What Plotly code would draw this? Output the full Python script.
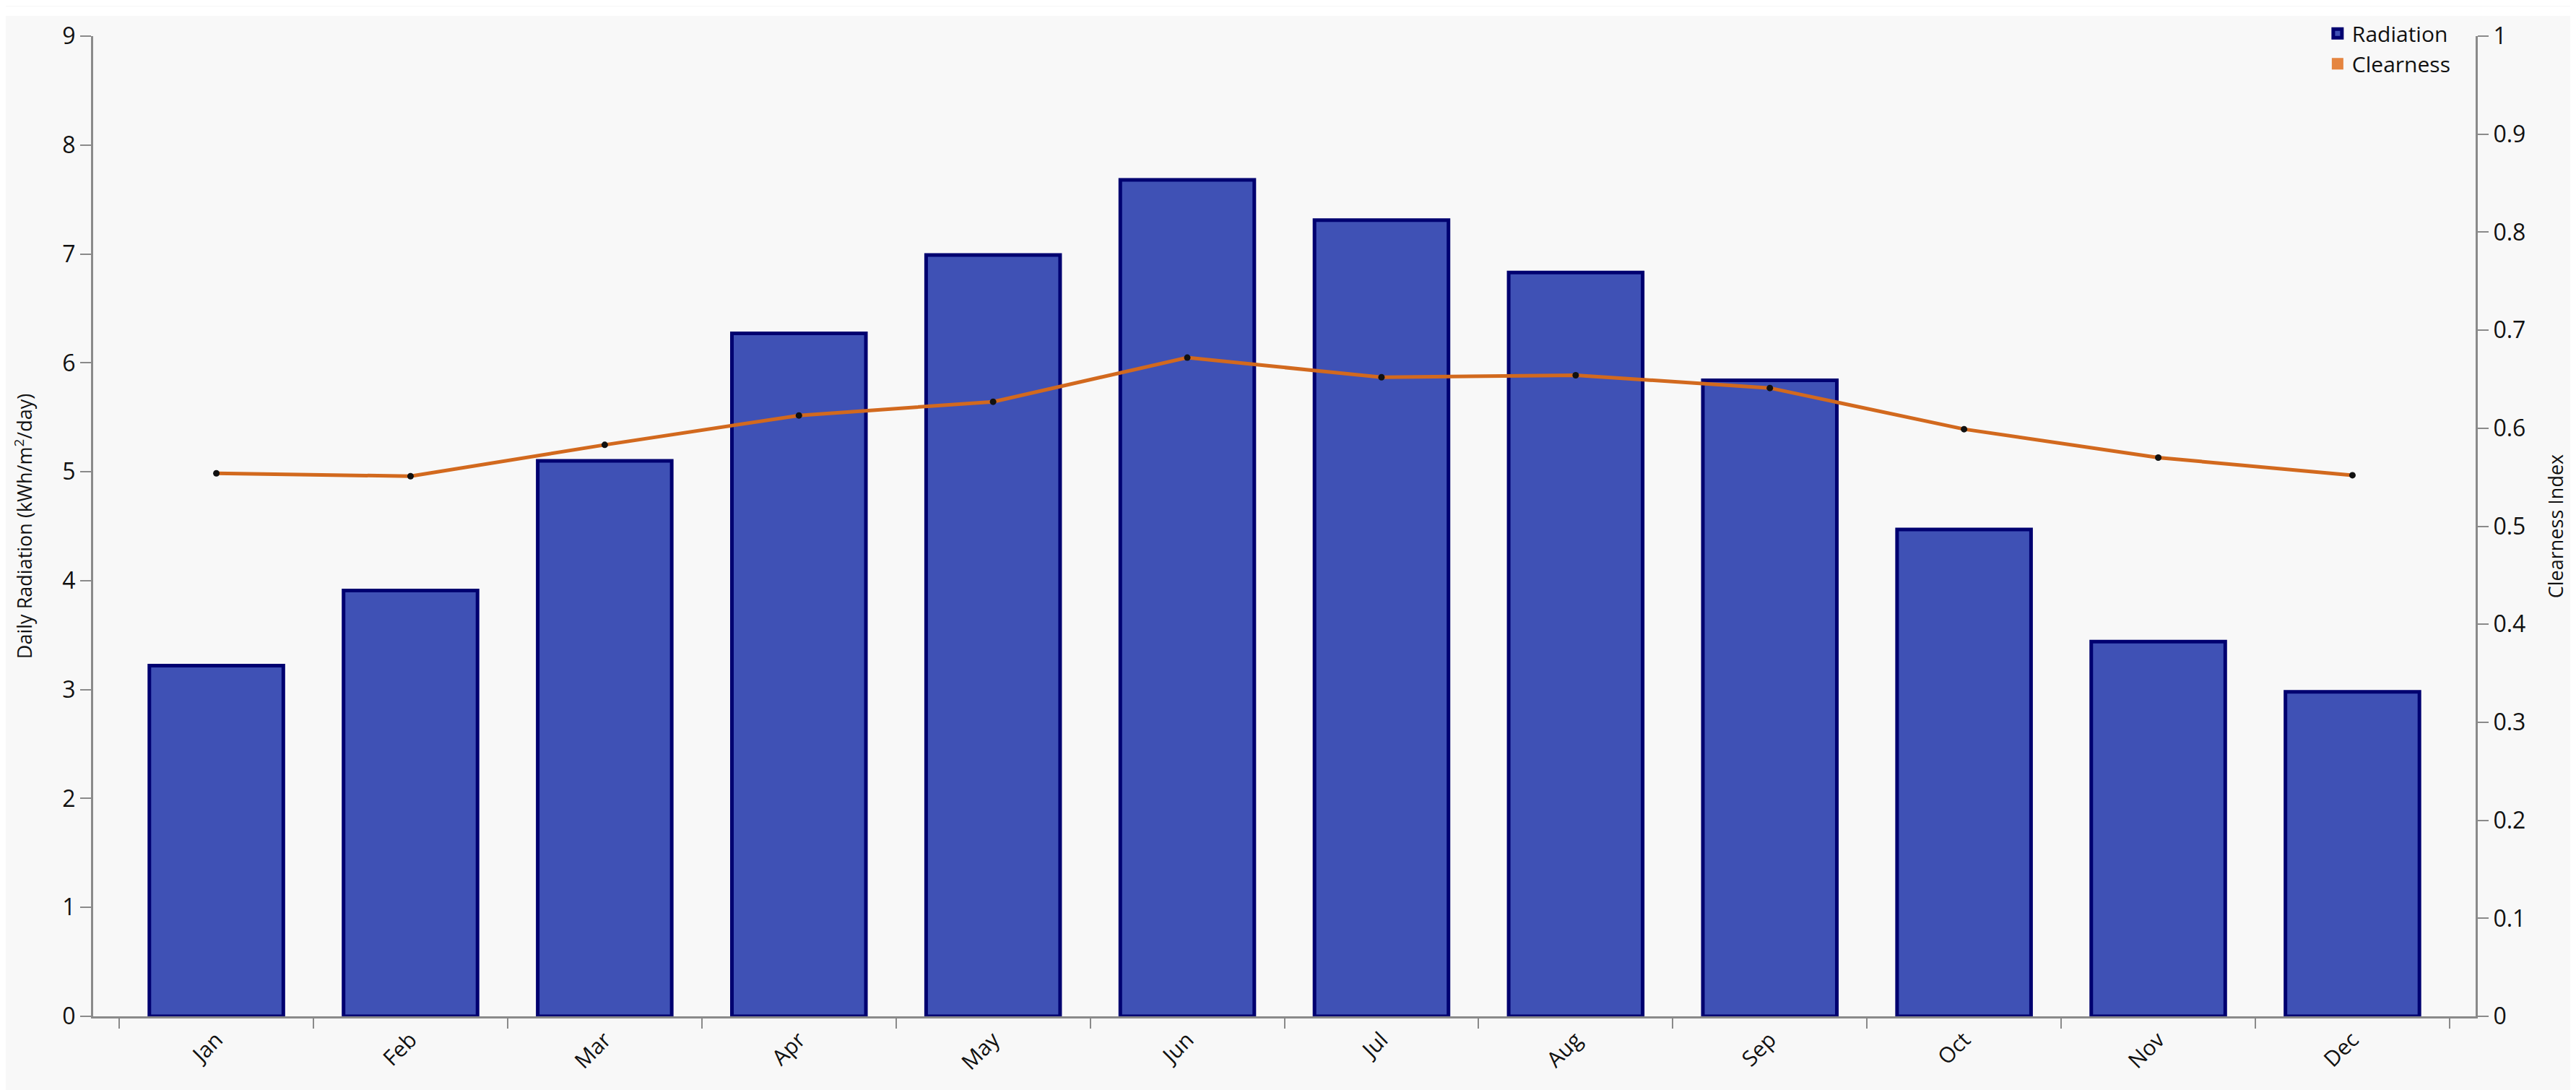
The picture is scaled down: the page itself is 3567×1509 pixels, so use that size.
import plotly.graph_objects as go

# monthly values
months = ['Jan', 'Feb', 'Mar', 'Apr', 'May', 'Jun', 'Jul', 'Aug', 'Sep', 'Oct', 'Nov', 'Dec']
radiation = [3.22, 3.91, 5.10, 6.27, 6.99, 7.68, 7.31, 6.83, 5.84, 4.47, 3.44, 2.98]
clearness = [0.554, 0.551, 0.583, 0.613, 0.627, 0.672, 0.652, 0.654, 0.641, 0.599, 0.570, 0.552]

left_ticks = list(range(0, 10))
right_ticks = [0, 0.1, 0.2, 0.3, 0.4, 0.5, 0.6, 0.7, 0.8, 0.9, 1]
right_labels = ['0', '0.1', '0.2', '0.3', '0.4', '0.5', '0.6', '0.7', '0.8', '0.9', '1']

font_family = 'Open Sans, Noto Sans, sans-serif'
axis_grey = '#8a8a8a'

fig = go.Figure()

# radiation bars on the left axis
fig.add_trace(go.Bar(
    x=months,
    y=radiation,
    name='Radiation',
    marker=dict(color='#3f51b5', line=dict(color='#000070', width=5)),
    yaxis='y',
))

# clearness index line on the right axis
fig.add_trace(go.Scatter(
    x=months,
    y=clearness,
    name='Clearness',
    mode='lines+markers',
    line=dict(color='#d2691e', width=5),
    marker=dict(color='#111111', size=9),
    yaxis='y2',
    showlegend=False,
))

# legend-only entry so the clearness swatch is a square like the reference
fig.add_trace(go.Scatter(
    x=[None],
    y=[None],
    name='Clearness',
    mode='markers',
    marker=dict(color='#e5853f', symbol='square', size=16),
    yaxis='y2',
))

fig.update_layout(
    width=3567,
    height=1509,
    margin=dict(l=121, r=147, t=38, b=110),
    paper_bgcolor='#f8f8f8',
    plot_bgcolor='#f8f8f8',
    font=dict(family=font_family, color='#111111', size=30),
    bargap=0.31,
    legend=dict(
        x=0.936, y=1.022, xanchor='left', yanchor='top',
        bgcolor='rgba(0,0,0,0)',
        font=dict(size=30),
        itemsizing='trace',
        tracegroupgap=0,
    ),
    xaxis=dict(
        automargin=False,
        showline=True, linecolor=axis_grey, linewidth=3,
        ticks='outside', tickson='boundaries', ticklen=14, tickwidth=2, tickcolor=axis_grey,
        tickangle=-45, tickfont=dict(size=30),
        showgrid=False, zeroline=False,
    ),
    yaxis=dict(
        automargin=False,
        range=[0, 9], tickvals=left_ticks,
        showline=True, linecolor=axis_grey, linewidth=3,
        ticks='outside', ticklen=15, tickwidth=2, tickcolor=axis_grey,
        tickfont=dict(size=32),
        showgrid=False, zeroline=False,
        title=dict(text='Daily Radiation (kWh/m<sup>2</sup>/day)', font=dict(size=27), standoff=34),
    ),
    yaxis2=dict(
        automargin=False,
        range=[0, 1], tickvals=right_ticks, ticktext=right_labels,
        overlaying='y', side='right',
        showline=True, linecolor=axis_grey, linewidth=3,
        ticks='outside', ticklen=15, tickwidth=2, tickcolor=axis_grey,
        tickfont=dict(size=32),
        showgrid=False, zeroline=False,
        title=dict(text='Clearness Index', font=dict(size=27), standoff=34),
    ),
    shapes=[dict(
        type='rect', xref='paper', yref='paper', layer='below',
        x0=-0.05, x1=1.05, y0=1.0206, y1=1.03,
        fillcolor='white', line=dict(width=0),
    )],
)

fig.write_html('out.html')
